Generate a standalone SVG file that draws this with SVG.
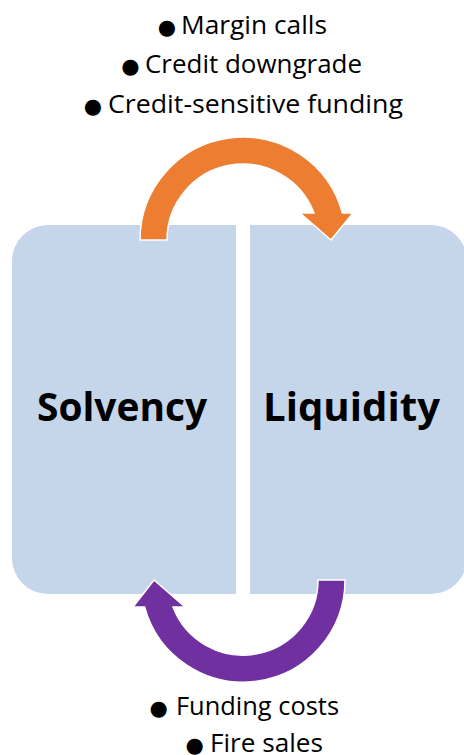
<svg xmlns="http://www.w3.org/2000/svg" width="464" height="755" viewBox="0 0 464 755">
  <style>
    .box { fill: #C5D5EA; }
    .title { font-family: "Open Sans", Lato, sans-serif; font-weight: bold; font-size: 40px; fill: #000; }
    .note { font-family: "Open Sans", Lato, sans-serif; font-size: 25px; fill: #000; }
    .bullet { font-family: "DejaVu Sans", sans-serif; font-size: 21px; fill: #000; text-anchor: middle; }
    .arrow { stroke: #fff; stroke-width: 1.5; stroke-linejoin: miter; }
  </style>
  <rect width="464" height="755" fill="#fff"/>

  <g id="solvency">
    <path class="box" d="M236 225 V594 H48 A36 36 0 0 1 12 558 V261 A36 36 0 0 1 48 225 Z"/>
    <text class="title" x="37" y="421" textLength="170" lengthAdjust="spacingAndGlyphs">Solvency</text>
  </g>

  <g id="liquidity">
    <path class="box" d="M250 225 H431 A36 36 0 0 1 467 261 V558 A36 36 0 0 1 431 594 H250 Z"/>
    <text class="title" x="263" y="421" textLength="177" lengthAdjust="spacingAndGlyphs">Liquidity</text>
  </g>

  <g id="connectors">
    <!-- solvency → liquidity, over the top -->
    <path class="arrow" fill="#ED7D31" d="M140 240 A103 103 0 0 1 342.4 213 L353 213 L331 240 L300 213 L314 213 A76 76 0 0 0 167 240 Z"/>
    <!-- liquidity → solvency, under the bottom -->
    <path class="arrow" fill="#7030A0" d="M345 580 A102 102 0 0 1 144.6 607 L133 607 L154 580 L185 607 L173 607 A75 75 0 0 0 318 580 Z"/>
  </g>

  <g id="top-notes">
    <text class="bullet" x="167" y="34">●</text>
    <text class="note" x="181" y="34" textLength="146" lengthAdjust="spacingAndGlyphs">Margin calls</text>
    <text class="bullet" x="130.5" y="73">●</text>
    <text class="note" x="145" y="73" textLength="217" lengthAdjust="spacingAndGlyphs">Credit downgrade</text>
    <text class="bullet" x="93" y="113">●</text>
    <text class="note" x="108" y="113" textLength="295" lengthAdjust="spacingAndGlyphs">Credit-sensitive funding</text>
  </g>

  <g id="bottom-notes">
    <text class="bullet" x="158.7" y="715">●</text>
    <text class="note" x="176" y="715" textLength="163" lengthAdjust="spacingAndGlyphs">Funding costs</text>
    <text class="bullet" x="194.7" y="752">●</text>
    <text class="note" x="210" y="752" textLength="113" lengthAdjust="spacingAndGlyphs">Fire sales</text>
  </g>
</svg>
